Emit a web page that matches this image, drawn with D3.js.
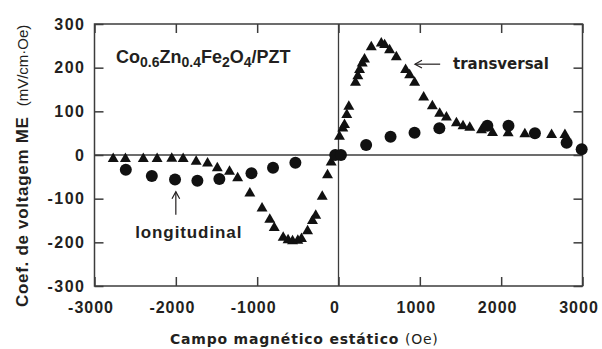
<!DOCTYPE html>
<html>
<head>
<meta charset="utf-8">
<script src="https://cdn.jsdelivr.net/npm/d3@7"></script>
<style>
  body { margin: 0; background: #fff; }
  svg { display: block; }
  .tick text { font-family: "Liberation Sans", Arial, sans-serif; font-weight: bold; font-size: 16px; letter-spacing: 1.5px; fill: #231f20; }
  .xax .tick text { letter-spacing: 1px; }
</style>
</head>
<body>
<div id="chart"></div>
<script>
// transversal (triangles)
var transField = [-2770, -2620, -2400, -2230, -2050, -1910, -1750, -1610, -1490, -1340, -1240,
  -1090, -940, -845, -790, -680, -620, -565, -500, -455, -380, -320, -280, -200, -135, -90,
  12, 53, 74, 102, 127, 209, 238, 259, 292, 320, 403, 526, 567, 628, 711, 825, 875, 936,
  1047, 1154, 1244, 1327, 1450, 1531, 1614, 1758, 1894, 2086, 2291, 2620, 2784];
var transME = [-9, -9, -9, -9, -8, -9, -15, -19, -30, -38, -53,
  -88, -122, -148, -167, -189, -195, -197, -196, -192, -174, -151, -139, -95, -46, -17,
  42, 61, 69, 92, 111, 166, 181, 195, 210, 219, 247, 256, 252, 240, 224, 195, 183, 166,
  132, 112, 95, 86, 73, 66, 63, 57, 51, 50, 48, 46, 46];

// longitudinal (circles)
var longField = [-2615, -2295, -2010, -1735, -1465, -1070, -805, -530, -40, 30,
  340, 640, 935, 1240, 1830, 2090, 2415, 2805, 2990];
var longME = [-34, -48, -56, -59, -55, -42, -29, -18, 0, 0,
  23, 42, 51, 61, 67, 67, 50, 28, 13];

var xTicks = [-3000, -2000, -1000, 0, 1000, 2000, 3000];
var yTicks = [-300, -200, -100, 0, 100, 200, 300];

var width = 602, height = 349;
var margin = { top: 24, right: 19.5, bottom: 63, left: 94.5 };
var ink = "#231f20";
var lineCol = "#3c3c3c";

var svg = d3.select("#chart").append("svg")
  .attr("width", width)
  .attr("height", height);

svg.append("rect").attr("width", width).attr("height", height).attr("fill", "#fff");

var x = d3.scaleLinear().domain([-3000, 3000]).range([margin.left, width - margin.right]);
var y = d3.scaleLinear().domain([-300, 300]).range([height - margin.bottom, margin.top]);

var plotW = x(3000) - x(-3000);
var plotH = y(-300) - y(300);

// axes, ticks pointing inward
var xBottom = svg.append("g")
  .attr("class", "xax")
  .attr("transform", `translate(0, ${y(-300)})`)
  .call(d3.axisBottom(x).tickValues(xTicks).tickSizeInner(-9).tickSizeOuter(0).tickPadding(15.5).tickFormat(d3.format("d")));
var xTop = svg.append("g")
  .attr("transform", `translate(0, ${y(300)})`)
  .call(d3.axisTop(x).tickValues(xTicks).tickSizeInner(-9).tickSizeOuter(0).tickFormat(""));
var yLeft = svg.append("g")
  .attr("transform", `translate(${x(-3000)}, 0)`)
  .call(d3.axisLeft(y).tickValues(yTicks).tickSizeInner(-9).tickSizeOuter(0).tickPadding(9).tickFormat(d3.format("d")));
var yRight = svg.append("g")
  .attr("transform", `translate(${x(3000)}, 0)`)
  .call(d3.axisRight(y).tickValues(yTicks).tickSizeInner(-9).tickSizeOuter(0).tickFormat(""));

[xBottom, xTop, yLeft, yRight].forEach(function(g) {
  g.select(".domain").remove();
  g.selectAll(".tick line").attr("stroke", lineCol).attr("stroke-width", 1.5);
});
xBottom.selectAll(".tick text").attr("fill", ink).attr("dx", -4).text(d => d < 0 ? "-" + Math.abs(d) : d);
yLeft.selectAll(".tick text").attr("fill", ink).text(d => d < 0 ? "-" + Math.abs(d) : d);

// frame + zero lines
svg.append("rect")
  .attr("x", x(-3000)).attr("y", y(300))
  .attr("width", plotW).attr("height", plotH)
  .attr("fill", "none").attr("stroke", lineCol).attr("stroke-width", 1.5);
svg.append("line")
  .attr("x1", x(-3000)).attr("x2", x(3000)).attr("y1", y(0)).attr("y2", y(0))
  .attr("stroke", lineCol).attr("stroke-width", 1.3);
svg.append("line")
  .attr("x1", x(0)).attr("x2", x(0)).attr("y1", y(300)).attr("y2", y(-300))
  .attr("stroke", lineCol).attr("stroke-width", 1.3);

// markers
var tri = d3.symbol().type(d3.symbolTriangle).size(52);
svg.append("g").selectAll("path")
  .data(transField.map((f, i) => [f, transME[i]]))
  .enter().append("path")
  .attr("d", tri)
  .attr("transform", d => `translate(${x(d[0])}, ${y(d[1])})`)
  .attr("fill", "#111");

svg.append("g").selectAll("circle")
  .data(longField.map((f, i) => [f, longME[i]]))
  .enter().append("circle")
  .attr("cx", d => x(d[0]))
  .attr("cy", d => y(d[1]))
  .attr("r", 6)
  .attr("fill", "#111");

// annotations
var comp = svg.append("text")
  .attr("x", x(-2735)).attr("y", y(211))
  .attr("font-family", "Liberation Sans, Arial, sans-serif")
  .attr("font-weight", "bold")
  .attr("font-size", 18)
  .attr("fill", ink);
[["Co", false], ["0.6", true], ["Zn", false], ["0.4", true], ["Fe", false], ["2", true], ["O", false], ["4", true], ["/PZT", false]]
  .forEach(function(p, i, arr) {
    var prevSub = i > 0 && arr[i - 1][1];
    var ts = comp.append("tspan").text(p[0]);
    if (p[1]) ts.attr("font-size", 14).attr("dy", 4);
    else if (prevSub) ts.attr("dy", -4);
  });

svg.append("text")
  .attr("x", x(1408)).attr("y", y(197))
  .attr("font-family", "DejaVu Sans, sans-serif")
  .attr("font-weight", "bold")
  .attr("font-size", 15)
  .attr("fill", ink)
  .text("transversal");

svg.append("text")
  .attr("x", x(-2500)).attr("y", y(-189))
  .attr("font-family", "Liberation Sans, Arial, sans-serif")
  .attr("font-weight", "bold")
  .attr("font-size", 17)
  .attr("letter-spacing", 0.9)
  .attr("fill", ink)
  .text("longitudinal");

function arrow(x1, y1, x2, y2) {
  // arrow from tail (x1,y1) to tip (x2,y2), open head
  var ang = Math.atan2(y2 - y1, x2 - x1);
  var len = 8, wing = 0.5;
  var g = svg.append("g").attr("stroke", ink).attr("stroke-width", 1.2).attr("fill", "none");
  g.append("line").attr("x1", x1).attr("y1", y1).attr("x2", x2).attr("y2", y2);
  g.append("path").attr("d",
    `M${x2 - len * Math.cos(ang - wing)},${y2 - len * Math.sin(ang - wing)}` +
    `L${x2},${y2}` +
    `L${x2 - len * Math.cos(ang + wing)},${y2 - len * Math.sin(ang + wing)}`);
}
arrow(x(1250), y(208), x(940), y(208));
arrow(x(-2000), y(-137), x(-2000), y(-84));

// axis titles
var xt = svg.append("text")
  .attr("x", 170).attr("y", 344)
  .attr("font-family", "DejaVu Sans, sans-serif")
  .attr("font-size", 14)
  .attr("letter-spacing", 0.8)
  .attr("fill", ink);
xt.append("tspan").attr("font-weight", "bold").text("Campo magnético estático ");
xt.append("tspan").text("(Oe)");

var yt = svg.append("text")
  .attr("transform", "translate(27.5, 307) rotate(-90)")
  .attr("font-family", "Liberation Sans, Arial, sans-serif")
  .attr("fill", ink);
yt.append("tspan").attr("font-weight", "bold").attr("font-size", 17).attr("letter-spacing", 0.7).text("Coef. de voltagem ME");
yt.append("tspan").attr("font-size", 15).attr("dx", 10).text("(mV/cm·Oe)");
</script>
</body>
</html>
